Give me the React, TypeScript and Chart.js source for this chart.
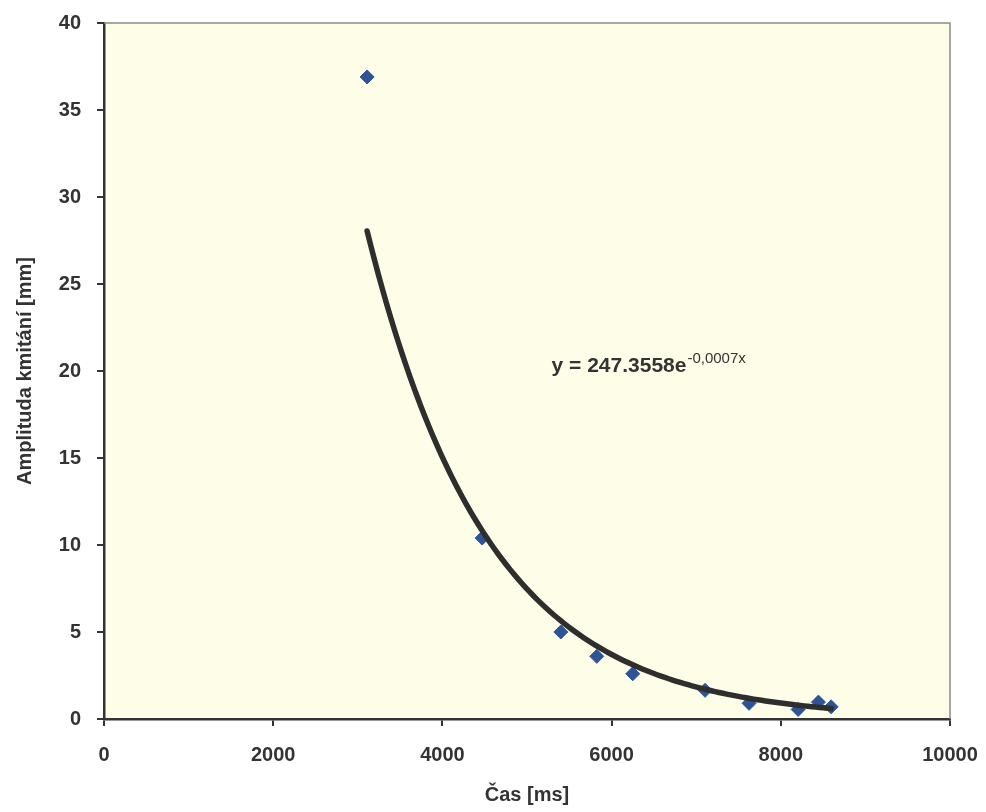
import React, { useEffect, useRef } from "react";
import { Chart, registerables } from "chart.js";

Chart.register(...registerables);

const timeMs = [3110, 4470, 5400, 5825, 6250, 7105, 7625, 8205, 8445, 8595];
const amplitude = [36.9, 10.4, 5.0, 3.6, 2.6, 1.65, 0.9, 0.55, 0.97, 0.7];
const xTicks = [0, 2000, 4000, 6000, 8000, 10000];
const yTicks = [0, 5, 10, 15, 20, 25, 30, 35, 40];
const TREND_A = 247.3558;
const TREND_B = -0.0007;
const EQ_MAIN = "y = 247.3558e";
const EQ_SUP = "-0,0007x";
const EQ_AT = { x: 5290, y: 20.4 };
const X_TITLE = "Čas [ms]";
const Y_TITLE = "Amplituda kmitání [mm]";

const FONT = "'Liberation Sans', Arial, sans-serif";
const TEXT = "#333333";

const decorPlugin = {
  id: "decor",
  beforeDraw(chart: any) {
    const { ctx, chartArea: a } = chart;
    ctx.save();
    ctx.fillStyle = "#FEFEE8";
    ctx.fillRect(a.left, a.top, a.right - a.left, a.bottom - a.top);
    ctx.restore();
  },
  afterDatasetsDraw(chart: any) {
    const { ctx, chartArea: a, scales } = chart;
    const xs = scales.x;
    const ys = scales.y;
    ctx.save();
    ctx.strokeStyle = "#8a8a8a";
    ctx.lineWidth = 1.5;
    ctx.beginPath();
    ctx.moveTo(a.left, a.top);
    ctx.lineTo(a.right, a.top);
    ctx.lineTo(a.right, a.bottom);
    ctx.stroke();
    ctx.restore();
    // exponential trendline defined by the equation printed on the chart
    const x0 = Math.min(...timeMs);
    const x1 = Math.max(...timeMs);
    ctx.save();
    ctx.strokeStyle = "#2e2e2e";
    ctx.lineWidth = 5.5;
    ctx.lineCap = "round";
    ctx.lineJoin = "round";
    ctx.beginPath();
    const steps = 120;
    for (let i = 0; i <= steps; i++) {
      const xv = x0 + ((x1 - x0) * i) / steps;
      const yv = TREND_A * Math.exp(TREND_B * xv);
      const px = xs.getPixelForValue(xv);
      const py = ys.getPixelForValue(yv);
      if (i === 0) ctx.moveTo(px, py);
      else ctx.lineTo(px, py);
    }
    ctx.stroke();
    ctx.restore();
    const ex = xs.getPixelForValue(EQ_AT.x);
    const ey = ys.getPixelForValue(EQ_AT.y);
    ctx.save();
    ctx.fillStyle = TEXT;
    ctx.textBaseline = "alphabetic";
    ctx.textAlign = "left";
    ctx.font = `bold 21px ${FONT}`;
    ctx.fillText(EQ_MAIN, ex, ey + 8);
    const w = ctx.measureText(EQ_MAIN).width;
    ctx.font = `15px ${FONT}`;
    ctx.fillText(EQ_SUP, ex + w + 1, ey - 1);
    ctx.restore();
  },
};

const noOverflow = (s: any) => {
  s.paddingLeft = 0;
  s.paddingRight = 0;
  s.paddingTop = 0;
  s.paddingBottom = 0;
};

export default function App() {
  const ref = useRef<HTMLCanvasElement | null>(null);
  useEffect(() => {
    if (!ref.current) return;
    const chart = new Chart(ref.current, {
      type: "scatter",
      data: {
        datasets: [
          {
            label: "Amplituda",
            data: timeMs.map((t, i) => ({ x: t, y: amplitude[i] })),
            pointStyle: "rectRot",
            pointRadius: 7,
            pointBackgroundColor: "#2D5596",
            pointBorderColor: "#2D5596",
            pointBorderWidth: 1,
            showLine: false,
          },
        ],
      },
      options: {
        responsive: false,
        animation: false,
        layout: { padding: { top: 23, right: 36, left: 0, bottom: 0 } },
        plugins: { legend: { display: false }, tooltip: { enabled: false } },
        scales: {
          x: {
            type: "linear",
            min: 0,
            max: 10000,
            afterBuildTicks: (s: any) => {
              s.ticks = xTicks.map((v) => ({ value: v }));
            },
            afterFit: (s: any) => {
              s.height = 93;
              noOverflow(s);
            },
            grid: {
              drawOnChartArea: false,
              drawTicks: true,
              tickLength: 7,
              color: "#333",
              lineWidth: 2,
            },
            border: { color: "#333", width: 2.5 },
            ticks: {
              padding: 17,
              color: TEXT,
              font: { family: FONT, size: 20, weight: "bold" },
              maxRotation: 0,
              callback: (v: any) => String(v),
            },
            title: {
              display: true,
              text: X_TITLE,
              color: TEXT,
              font: { family: FONT, size: 20, weight: "bold" },
              padding: { top: 0, bottom: 5 },
            },
          },
          y: {
            type: "linear",
            min: 0,
            max: 40,
            afterBuildTicks: (s: any) => {
              s.ticks = yTicks.map((v) => ({ value: v }));
            },
            afterFit: (s: any) => {
              s.width = 104;
              noOverflow(s);
            },
            grid: {
              drawOnChartArea: false,
              drawTicks: true,
              tickLength: 7,
              color: "#333",
              lineWidth: 2,
            },
            border: { color: "#333", width: 2.5 },
            ticks: {
              padding: 16,
              color: TEXT,
              font: { family: FONT, size: 20, weight: "bold" },
              callback: (v: any) => String(v),
            },
            title: {
              display: true,
              text: Y_TITLE,
              color: TEXT,
              font: { family: FONT, size: 20, weight: "bold" },
              padding: { top: 13, bottom: 0 },
            },
          },
        },
      } as any,
      plugins: [decorPlugin],
    });
    return () => chart.destroy();
  }, []);
  return (
    <div style={{ position: "absolute", left: 0, top: 0, width: 986, height: 812, background: "#fff" }}>
      <canvas ref={ref} width={986} height={812} />
    </div>
  );
}
